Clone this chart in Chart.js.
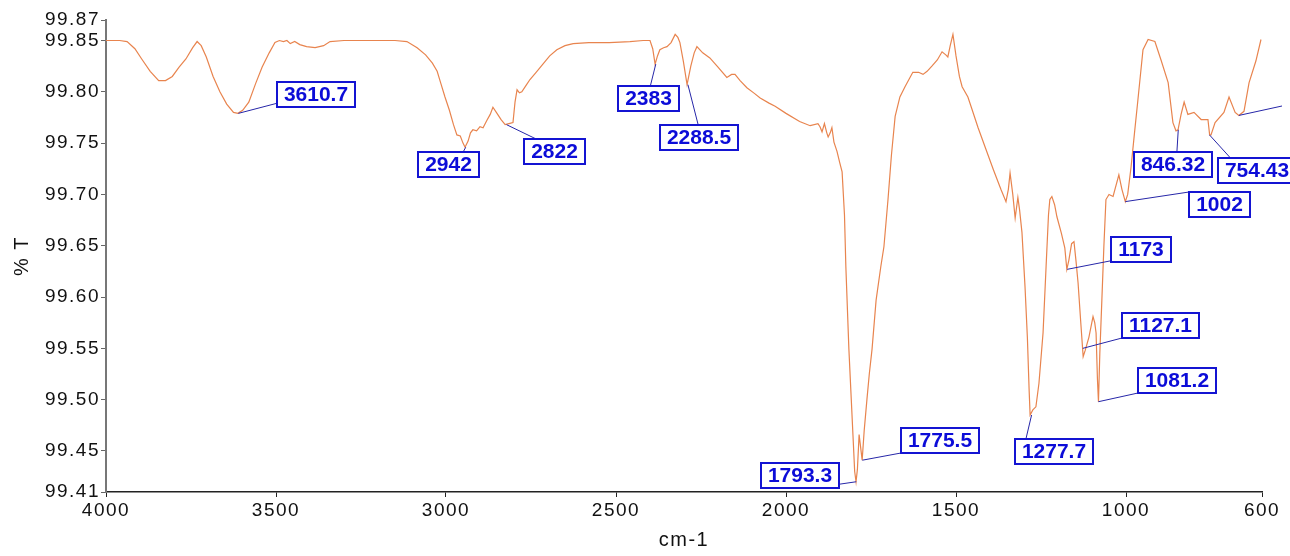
<!DOCTYPE html>
<html>
<head>
<meta charset="utf-8">
<script src="https://cdn.jsdelivr.net/npm/chart.js@4.4.1/dist/chart.umd.min.js"></script>
<style>
  html, body { margin: 0; padding: 0; background: #fff; }
  #wrap { width: 1290px; height: 556px; }
</style>
</head>
<body>
<div id="wrap"><canvas id="ftir" width="1290" height="556"></canvas></div>
<script>
// spectrum (cm-1 / %T)
const wavenumbers = [
  4000, 3960, 3938, 3915, 3895, 3870, 3845, 3825, 3805, 3785, 3765, 3745, 3732, 3720, 3705, 3685,
  3665, 3645, 3625, 3612, 3598, 3580, 3560, 3541, 3520, 3503, 3490, 3478, 3468, 3458, 3445, 3430,
  3410, 3385, 3360, 3341, 3300, 3200, 3150, 3115, 3085, 3060, 3040, 3026, 3015, 3003, 2990, 2978,
  2968, 2958, 2950, 2944, 2935, 2928, 2921, 2910, 2900, 2891, 2880, 2870, 2862, 2850, 2838, 2826,
  2815, 2803, 2797, 2791, 2784, 2777, 2765, 2753, 2735, 2715, 2695, 2674, 2650, 2626, 2580, 2520,
  2459, 2420, 2400, 2392, 2385, 2378, 2371, 2360, 2350, 2338, 2326, 2318, 2312, 2302, 2291, 2280,
  2270, 2262, 2245, 2224, 2200, 2174, 2160, 2150, 2135, 2115, 2095, 2076, 2050, 2032, 2000, 1960,
  1929, 1906, 1900, 1894, 1887, 1880, 1876, 1870, 1865, 1859, 1850, 1842, 1835, 1828, 1824, 1815,
  1808, 1803, 1798, 1794, 1790, 1785, 1781, 1776, 1770, 1762, 1755, 1747, 1735, 1721, 1712, 1700,
  1690, 1679, 1665, 1650, 1627, 1610, 1597, 1585, 1571, 1555, 1541, 1530, 1524, 1517, 1509, 1500,
  1490, 1482, 1465, 1453, 1435, 1412, 1390, 1368, 1353, 1346, 1341, 1333, 1326, 1322, 1318, 1313,
  1306, 1297, 1290, 1285, 1282, 1274, 1265, 1256, 1244, 1235, 1228, 1224, 1218, 1210, 1203, 1190,
  1180, 1174, 1168, 1160, 1153, 1147, 1141, 1133, 1126, 1120, 1109, 1097, 1092, 1088, 1084, 1081,
  1077, 1071, 1065, 1059, 1050, 1038, 1021, 1012, 1002, 995, 985, 975, 965, 950, 935, 915,
  897, 876, 862, 853, 847, 838, 829, 818, 800, 779, 759, 754, 750, 738, 712, 697,
  679, 668, 653, 638, 618, 603
];
const transmittance = [
  99.850, 99.850, 99.849, 99.842, 99.832, 99.820, 99.811, 99.811, 99.815, 99.824, 99.832, 99.843, 99.849, 99.845, 99.834, 99.815,
  99.800, 99.788, 99.780, 99.779, 99.782, 99.790, 99.808, 99.824, 99.838, 99.848, 99.850, 99.849, 99.850, 99.847, 99.849, 99.846,
  99.844, 99.843, 99.845, 99.849, 99.850, 99.850, 99.850, 99.849, 99.843, 99.836, 99.828, 99.820, 99.808, 99.795, 99.782, 99.768,
  99.758, 99.757, 99.750, 99.746, 99.752, 99.760, 99.763, 99.762, 99.766, 99.765, 99.772, 99.778, 99.785, 99.779, 99.773, 99.768,
  99.769, 99.770, 99.790, 99.802, 99.799, 99.800, 99.806, 99.812, 99.819, 99.827, 99.835, 99.841, 99.845, 99.847, 99.848, 99.848,
  99.849, 99.850, 99.850, 99.842, 99.827, 99.835, 99.841, 99.843, 99.844, 99.848, 99.856, 99.853, 99.848, 99.830, 99.807, 99.825,
  99.838, 99.844, 99.838, 99.833, 99.824, 99.814, 99.817, 99.817, 99.811, 99.804, 99.799, 99.794, 99.789, 99.786, 99.779, 99.771,
  99.767, 99.769, 99.766, 99.761, 99.769, 99.760, 99.756, 99.760, 99.765, 99.751, 99.742, 99.731, 99.722, 99.680, 99.630, 99.549,
  99.500, 99.465, 99.430, 99.420, 99.432, 99.466, 99.455, 99.441, 99.470, 99.500, 99.525, 99.549, 99.597, 99.630, 99.649, 99.695,
  99.738, 99.776, 99.795, 99.805, 99.819, 99.819, 99.817, 99.820, 99.825, 99.831, 99.839, 99.836, 99.834, 99.845, 99.856, 99.835,
  99.815, 99.805, 99.795, 99.783, 99.765, 99.744, 99.724, 99.705, 99.693, 99.705, 99.721, 99.700, 99.677, 99.687, 99.697, 99.685,
  99.663, 99.610, 99.560, 99.510, 99.485, 99.490, 99.493, 99.516, 99.565, 99.630, 99.680, 99.695, 99.698, 99.690, 99.678, 99.662,
  99.648, 99.627, 99.636, 99.652, 99.654, 99.635, 99.614, 99.575, 99.542, 99.548, 99.561, 99.581, 99.575, 99.565, 99.520, 99.498,
  99.545, 99.597, 99.650, 99.695, 99.700, 99.698, 99.719, 99.705, 99.693, 99.700, 99.727, 99.760, 99.792, 99.841, 99.851, 99.849,
  99.831, 99.809, 99.770, 99.762, 99.763, 99.778, 99.790, 99.778, 99.780, 99.773, 99.773, 99.758, 99.758, 99.770, 99.780, 99.795,
  99.780, 99.777, 99.781, 99.809, 99.830, 99.851
];

const xTicks = [4000, 3500, 3000, 2500, 2000, 1500, 1000, 600];
const yTicks = [99.41, 99.45, 99.50, 99.55, 99.60, 99.65, 99.70, 99.75, 99.80, 99.85, 99.87];

// peak picks
const peakLabels = ['3610.7', '2942', '2822', '2383', '2288.5', '1793.3', '1775.5', '1277.7',
                    '1173', '1127.1', '1081.2', '1002', '846.32', '754.43', ''];
const peakWavenumbers = [3610.7, 2942, 2822, 2383, 2288.5, 1793.3, 1775.5, 1277.7,
                         1173, 1127.1, 1081.2, 1002, 846.32, 754.43, 668];
const peakTransmittance = [99.779, 99.746, 99.768, 99.827, 99.807, 99.420, 99.441, 99.485,
                           99.627, 99.550, 99.498, 99.693, 99.763, 99.758, 99.777];
// where each label box sits, px from the peak point (top-left corner)
const labelOffsets = [[39, -31], [-48, 5], [17, 14], [-38, 22], [-28, 40], [-95, -19], [39, -32], [-17, 24],
                      [44, -32], [39, -35], [40, -34], [64, -10], [-44, 22], [9, 23], [43, -9]];
// where the leader line meets the box (fraction of box width / height)
const leaderEnds = [[0, 0.85], [0.74, 0], [0.2, 0], [0.53, 0], [0.49, 0], [1, 0.85], [0, 1], [0.14, 0],
                    [0, 0.95], [0, 1], [0, 1], [0, 0], [0.55, 0], [0.16, 0], [0, 0]];

const FONT = '"Liberation Sans", Arial, sans-serif';

// wider spacing on axis text, like the instrument software
const axisTextPlugin = {
    id: 'axisText',
    beforeDraw(chart) { chart.ctx.letterSpacing = '1.5px'; },
    beforeDatasetsDraw(chart) { chart.ctx.letterSpacing = '0px'; }
};

const peakLabelsPlugin = {
    id: 'peakLabels',
    afterDatasetsDraw(chart) {
        const ctx = chart.ctx;
        const x = chart.scales.x, y = chart.scales.y;
        ctx.save();
        ctx.letterSpacing = '0px';
        ctx.font = 'bold 21px ' + FONT;
        ctx.textAlign = 'center';
        ctx.textBaseline = 'middle';

        peakWavenumbers.forEach((wn, i) => {
            const px = x.getPixelForValue(wn);
            const py = y.getPixelForValue(peakTransmittance[i]);
            const label = peakLabels[i];
            const bx = Math.round(px + labelOffsets[i][0]);
            const by = Math.round(py + labelOffsets[i][1]);
            const bh = 25;
            const bw = label ? Math.round(ctx.measureText(label).width) + 14 : 0;
            const ex = bx + bw * leaderEnds[i][0];
            const ey = by + (label ? bh * leaderEnds[i][1] : 0);

            ctx.strokeStyle = '#2626a8';
            ctx.lineWidth = 1;
            ctx.beginPath();
            ctx.moveTo(px, py);
            ctx.lineTo(ex, ey);
            ctx.stroke();

            if (!label) return;
            ctx.fillStyle = '#fff';
            ctx.fillRect(bx, by, bw, bh);
            ctx.strokeStyle = '#1414d2';
            ctx.lineWidth = 2;
            ctx.strokeRect(bx, by, bw, bh);
            ctx.fillStyle = '#0c0cd8';
            ctx.fillText(label, bx + bw / 2, by + bh / 2 + 1);
        });
        ctx.restore();
    }
};

const points = wavenumbers.map((wn, i) => ({ x: wn, y: transmittance[i] }));

new Chart(document.getElementById('ftir'), {
    type: 'line',
    data: {
        datasets: [{
            data: points,
            borderColor: '#e8844e',
            borderWidth: 1.2,
            pointRadius: 0,
            tension: 0,
            fill: false
        }]
    },
    options: {
        responsive: false,
        animation: false,
        devicePixelRatio: 1,
        layout: { padding: { top: 20, right: 28, left: 0, bottom: 0 } },
        plugins: {
            legend: { display: false },
            tooltip: { enabled: false }
        },
        scales: {
            x: {
                type: 'linear',
                reverse: true,
                min: 600,
                max: 4000,
                afterBuildTicks: s => { s.ticks = xTicks.map(v => ({ value: v })); },
                afterFit: s => { s.height = 64; },
                grid: { drawOnChartArea: false, tickLength: 5, color: '#222' },
                border: { color: '#222', width: 1.5 },
                ticks: {
                    autoSkip: false,
                    maxRotation: 0,
                    padding: 2,
                    color: '#111',
                    font: { family: FONT, size: 19 },
                    callback: v => String(v)
                },
                title: {
                    display: true,
                    text: 'cm-1',
                    color: '#111',
                    font: { family: FONT, size: 20 },
                    padding: { top: 0, bottom: 4 }
                }
            },
            y: {
                min: 99.41,
                max: 99.87,
                afterBuildTicks: s => { s.ticks = yTicks.map(v => ({ value: v })); },
                afterFit: s => { s.width = 106; },
                grid: { drawOnChartArea: false, tickLength: 5, color: '#666' },
                border: { color: '#777', width: 2 },
                ticks: {
                    autoSkip: false,
                    padding: 1,
                    color: '#111',
                    font: { family: FONT, size: 19 },
                    callback: v => Number(v).toFixed(2)
                },
                title: {
                    display: true,
                    text: '% T',
                    color: '#111',
                    font: { family: FONT, size: 20 },
                    padding: { top: 10, bottom: 0 }
                }
            }
        }
    },
    plugins: [axisTextPlugin, peakLabelsPlugin]
});
</script>
</body>
</html>
